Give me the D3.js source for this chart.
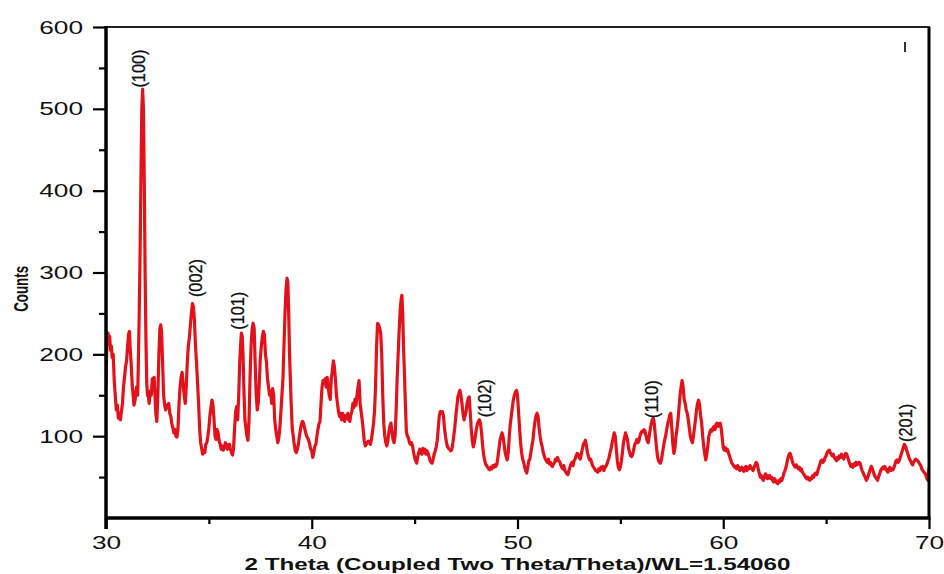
<!DOCTYPE html>
<html>
<head>
<meta charset="utf-8">
<script src="https://cdn.jsdelivr.net/npm/d3@7"></script>
<style>
  body { margin: 0; background: #ffffff; }
  svg { display: block; }
</style>
</head>
<body>
<svg id="chart" width="944" height="574"></svg>
<script>
// XRD scan: [2θ (deg), counts]
const scan = [
[30.00,160],[30.03,200],[30.06,222],[30.10,226],[30.14,212],[30.18,222],[30.22,205],[30.26,210],[30.30,196],[30.35,200],
[30.40,168],[30.45,150],[30.50,132],[30.55,138],[30.60,122],[30.65,128],[30.70,120],[30.75,130],[30.80,140],[30.85,160],
[30.90,172],[30.95,185],[31.00,192],[31.05,210],[31.10,225],[31.14,228],[31.18,205],[31.22,190],[31.28,160],[31.32,150],
[31.36,138],[31.42,145],[31.48,160],[31.54,150],[31.58,200],[31.62,260],[31.66,330],[31.70,420],[31.74,500],[31.78,524],
[31.82,500],[31.86,410],[31.90,300],[31.94,220],[31.98,165],[32.02,150],[32.06,148],[32.10,140],[32.15,155],[32.20,150],
[32.25,170],[32.30,165],[32.34,172],[32.38,150],[32.42,128],[32.47,118],[32.52,150],[32.57,200],[32.62,232],[32.66,236],
[32.70,228],[32.75,190],[32.80,150],[32.85,138],[32.90,132],[32.95,138],[33.00,135],[33.05,140],[33.10,128],[33.15,124],
[33.20,115],[33.25,110],[33.30,104],[33.35,108],[33.40,100],[33.45,99],[33.50,110],[33.55,140],[33.60,160],[33.65,172],
[33.70,178],[33.75,165],[33.80,150],[33.85,140],[33.90,160],[33.95,190],[34.00,210],[34.05,220],[34.10,235],[34.15,250],
[34.20,262],[34.25,258],[34.30,240],[34.35,210],[34.40,190],[34.45,165],[34.50,140],[34.55,110],[34.60,92],[34.65,85],
[34.70,78],[34.75,82],[34.80,80],[34.85,90],[34.90,92],[34.95,100],[35.00,110],[35.05,125],[35.10,135],[35.15,144],
[35.20,138],[35.25,120],[35.30,100],[35.35,96],[35.40,108],[35.45,104],[35.50,94],[35.55,90],[35.60,84],[35.65,88],
[35.70,83],[35.75,86],[35.80,92],[35.85,90],[35.90,84],[35.95,86],[36.00,90],[36.05,84],[36.10,80],[36.15,77],
[36.20,85],[36.25,110],[36.30,130],[36.35,136],[36.40,120],[36.45,150],[36.50,190],[36.55,215],[36.58,226],[36.62,222],
[36.66,200],[36.70,160],[36.75,120],[36.80,110],[36.85,100],[36.90,95],[36.95,120],[37.00,170],[37.05,210],[37.10,230],
[37.15,238],[37.20,232],[37.25,190],[37.30,150],[37.35,132],[37.40,140],[37.45,165],[37.50,195],[37.55,210],[37.60,222],
[37.65,228],[37.70,224],[37.75,200],[37.80,190],[37.85,170],[37.90,160],[37.95,150],[38.00,155],[38.05,140],[38.10,158],
[38.15,150],[38.20,120],[38.25,108],[38.30,100],[38.35,92],[38.40,98],[38.45,110],[38.50,130],[38.55,150],[38.60,170],
[38.65,210],[38.70,250],[38.75,280],[38.80,293],[38.84,288],[38.88,250],[38.92,200],[38.96,170],[39.00,140],[39.05,110],
[39.10,100],[39.15,90],[39.20,82],[39.25,80],[39.30,84],[39.35,90],[39.40,100],[39.45,108],[39.50,115],[39.55,118],
[39.60,116],[39.65,110],[39.70,105],[39.75,100],[39.80,98],[39.85,95],[39.90,90],[39.95,84],[40.00,82],[40.05,74],
[40.10,80],[40.15,88],[40.20,90],[40.25,100],[40.30,108],[40.35,115],[40.40,118],[40.45,140],[40.50,160],[40.55,168],
[40.60,165],[40.65,170],[40.70,160],[40.75,172],[40.80,160],[40.85,150],[40.90,145],[40.95,170],[41.00,180],[41.05,192],
[41.10,185],[41.15,170],[41.20,150],[41.25,140],[41.30,130],[41.35,124],[41.40,128],[41.45,120],[41.50,128],[41.55,124],
[41.60,118],[41.65,125],[41.70,122],[41.75,128],[41.80,120],[41.85,118],[41.90,126],[41.95,130],[42.00,140],[42.05,135],
[42.10,145],[42.15,138],[42.20,150],[42.25,160],[42.30,168],[42.35,140],[42.40,130],[42.45,120],[42.50,108],[42.55,95],
[42.60,88],[42.65,90],[42.70,92],[42.75,94],[42.80,92],[42.85,90],[42.90,96],[42.95,105],[43.00,115],[43.05,130],
[43.10,160],[43.15,210],[43.20,238],[43.25,236],[43.30,232],[43.35,226],[43.40,200],[43.45,150],[43.50,115],[43.55,100],
[43.60,92],[43.65,88],[43.70,95],[43.75,105],[43.80,112],[43.85,116],[43.90,105],[43.95,96],[44.00,92],[44.05,100],
[44.10,130],[44.15,170],[44.20,200],[44.25,230],[44.30,255],[44.35,268],[44.38,272],[44.42,250],[44.46,210],[44.50,180],
[44.55,140],[44.60,105],[44.65,100],[44.70,98],[44.75,92],[44.80,90],[44.85,92],[44.90,88],[44.95,80],[45.00,74],
[45.05,70],[45.10,67],[45.15,75],[45.20,80],[45.25,84],[45.30,82],[45.35,78],[45.40,85],[45.45,80],[45.50,84],
[45.55,78],[45.60,82],[45.65,79],[45.70,75],[45.75,70],[45.80,68],[45.85,67],[45.90,72],[45.95,78],[46.00,82],
[46.05,87],[46.10,95],[46.15,110],[46.20,125],[46.25,130],[46.30,128],[46.35,130],[46.40,125],[46.45,110],[46.50,100],
[46.55,92],[46.60,87],[46.65,85],[46.70,84],[46.75,82],[46.80,83],[46.85,90],[46.90,100],[46.95,110],[47.00,124],
[47.05,135],[47.10,148],[47.15,152],[47.20,156],[47.25,150],[47.30,140],[47.35,128],[47.40,120],[47.45,125],[47.50,130],
[47.55,140],[47.60,146],[47.65,148],[47.70,130],[47.75,110],[47.80,95],[47.85,87],[47.90,92],[47.95,100],[48.00,108],
[48.05,115],[48.10,118],[48.15,120],[48.20,116],[48.25,105],[48.30,90],[48.35,78],[48.40,71],[48.45,66],[48.50,64],
[48.55,62],[48.60,60],[48.65,59],[48.70,62],[48.75,60],[48.80,64],[48.85,62],[48.90,65],[48.95,63],[49.00,66],
[49.05,75],[49.10,85],[49.15,95],[49.20,100],[49.25,104],[49.30,99],[49.35,90],[49.40,80],[49.45,75],[49.50,71],
[49.55,80],[49.60,100],[49.65,115],[49.70,125],[49.75,135],[49.80,145],[49.85,150],[49.90,154],[49.95,156],[50.00,150],
[50.05,130],[50.10,110],[50.15,92],[50.20,80],[50.25,72],[50.30,68],[50.35,62],[50.40,58],[50.45,55],[50.50,62],
[50.55,70],[50.60,72],[50.65,80],[50.70,88],[50.75,95],[50.80,108],[50.85,118],[50.90,125],[50.95,128],[51.00,124],
[51.05,110],[51.10,100],[51.15,92],[51.20,87],[51.25,80],[51.30,76],[51.35,72],[51.40,70],[51.45,68],[51.50,72],
[51.55,66],[51.60,68],[51.65,64],[51.70,63],[51.75,66],[51.80,68],[51.85,72],[51.90,70],[51.95,74],[52.00,70],
[52.05,69],[52.10,65],[52.15,62],[52.20,60],[52.25,64],[52.30,58],[52.35,56],[52.40,54],[52.45,53],[52.50,58],
[52.55,62],[52.60,66],[52.65,68],[52.70,64],[52.75,70],[52.80,72],[52.85,76],[52.90,79],[52.95,78],[53.00,74],
[53.05,72],[53.10,78],[53.15,84],[53.20,90],[53.25,92],[53.30,95],[53.35,88],[53.40,80],[53.45,75],[53.50,71],
[53.55,72],[53.60,68],[53.65,64],[53.70,62],[53.75,60],[53.80,58],[53.85,57],[53.90,56],[53.95,60],[54.00,58],
[54.05,62],[54.10,60],[54.15,63],[54.20,58],[54.25,62],[54.30,63],[54.35,66],[54.40,70],[54.45,74],[54.50,80],
[54.55,85],[54.60,92],[54.65,98],[54.70,104],[54.75,100],[54.80,85],[54.85,70],[54.90,62],[54.95,59],[55.00,62],
[55.05,70],[55.10,80],[55.15,92],[55.20,98],[55.25,104],[55.30,100],[55.35,95],[55.40,85],[55.45,80],[55.50,76],
[55.55,75],[55.60,78],[55.65,84],[55.70,90],[55.75,92],[55.80,96],[55.85,92],[55.90,94],[55.95,100],[56.00,104],
[56.05,106],[56.10,105],[56.15,108],[56.20,106],[56.25,100],[56.30,95],[56.35,92],[56.40,100],[56.45,108],[56.50,115],
[56.55,120],[56.60,122],[56.65,115],[56.70,100],[56.75,88],[56.80,76],[56.85,70],[56.90,68],[56.95,67],[57.00,72],
[57.05,80],[57.10,88],[57.15,95],[57.20,100],[57.25,108],[57.30,115],[57.35,120],[57.40,126],[57.45,128],[57.50,110],
[57.55,90],[57.60,79],[57.65,85],[57.70,100],[57.75,108],[57.80,120],[57.85,135],[57.90,150],[57.95,160],[58.00,168],
[58.05,160],[58.10,145],[58.15,140],[58.20,132],[58.25,128],[58.30,120],[58.35,110],[58.40,100],[58.45,95],[58.50,92],
[58.55,100],[58.60,110],[58.65,120],[58.70,132],[58.75,140],[58.80,144],[58.85,138],[58.90,125],[58.95,116],[59.00,100],
[59.05,88],[59.10,78],[59.15,71],[59.20,78],[59.25,88],[59.30,100],[59.35,105],[59.40,108],[59.45,106],[59.50,110],
[59.55,112],[59.60,108],[59.65,114],[59.70,116],[59.75,112],[59.80,114],[59.85,116],[59.90,110],[59.95,98],[60.00,86],
[60.05,83],[60.10,86],[60.15,82],[60.20,84],[60.25,80],[60.30,76],[60.35,72],[60.40,68],[60.45,66],[60.50,64],
[60.55,62],[60.60,63],[60.65,60],[60.70,64],[60.75,62],[60.80,58],[60.85,60],[60.90,62],[60.95,59],[61.00,57],
[61.05,61],[61.10,63],[61.15,58],[61.20,62],[61.25,60],[61.30,64],[61.35,62],[61.40,60],[61.45,58],[61.50,62],
[61.55,65],[61.60,68],[61.65,66],[61.70,60],[61.75,55],[61.80,50],[61.85,52],[61.90,48],[61.95,46],[62.00,50],
[62.05,54],[62.10,52],[62.15,48],[62.20,50],[62.25,52],[62.30,48],[62.35,50],[62.40,46],[62.45,44],[62.50,48],
[62.55,45],[62.60,43],[62.65,42],[62.70,46],[62.75,44],[62.80,48],[62.85,46],[62.90,50],[62.95,55],[63.00,58],
[63.05,62],[63.10,68],[63.15,74],[63.20,78],[63.25,79],[63.30,75],[63.35,70],[63.40,66],[63.45,64],[63.50,62],
[63.55,65],[63.60,62],[63.65,60],[63.70,62],[63.75,58],[63.80,60],[63.85,56],[63.90,54],[63.95,52],[64.00,50],
[64.05,48],[64.10,50],[64.15,47],[64.20,46],[64.25,49],[64.30,48],[64.35,52],[64.40,50],[64.45,54],[64.50,55],
[64.55,53],[64.60,58],[64.65,62],[64.70,66],[64.75,70],[64.80,71],[64.85,68],[64.90,70],[64.95,74],[65.00,76],
[65.05,80],[65.10,82],[65.15,83],[65.20,80],[65.25,78],[65.30,76],[65.35,78],[65.40,74],[65.45,72],[65.50,70],
[65.55,74],[65.60,72],[65.65,76],[65.70,74],[65.75,78],[65.80,76],[65.85,72],[65.90,75],[65.95,79],[66.00,78],
[66.05,74],[66.10,70],[66.15,66],[66.20,63],[66.25,65],[66.30,62],[66.35,66],[66.40,64],[66.45,68],[66.50,65],
[66.55,66],[66.60,68],[66.65,67],[66.70,62],[66.75,58],[66.80,55],[66.85,52],[66.90,50],[66.95,46],[67.00,48],
[67.05,52],[67.10,56],[67.15,60],[67.20,63],[67.25,60],[67.30,56],[67.35,52],[67.40,50],[67.45,48],[67.50,46],
[67.55,50],[67.60,54],[67.65,58],[67.70,60],[67.75,62],[67.80,60],[67.85,63],[67.90,60],[67.95,58],[68.00,56],
[68.05,60],[68.10,62],[68.15,58],[68.20,60],[68.25,59],[68.30,62],[68.35,66],[68.40,70],[68.45,71],[68.50,68],
[68.55,70],[68.60,74],[68.65,78],[68.70,82],[68.75,86],[68.80,90],[68.85,88],[68.90,84],[68.95,80],[69.00,76],
[69.05,72],[69.10,70],[69.15,67],[69.20,65],[69.25,68],[69.30,70],[69.35,72],[69.40,71],[69.45,70],[69.50,68],
[69.55,66],[69.60,64],[69.65,60],[69.70,58],[69.75,56],[69.80,55],[69.85,52],[69.90,48],[69.95,46],[70.00,62]
];

// Axis ticks
const xMajorTicks = [30, 40, 50, 60, 70];
const xMinorTicks = [35, 45, 55, 65];
const yMajorTicks = [100, 200, 300, 400, 500, 600];
const yMinorTicks = [50, 150, 250, 350, 450, 550];

// Miller-index labels and where each sits (2θ, counts of its lower end)
const hklLabels  = ["(100)", "(002)", "(101)", "(102)", "(110)", "(201)"];
const hklAngles  = [31.62, 34.37, 36.42, 48.42, 56.55, 68.88];
const hklCounts  = [526, 270, 230, 123, 122, 93];

const xTitle = "2 Theta (Coupled Two Theta/Theta)/WL=1.54060";
const yTitle = "Counts";

const svg = d3.select("#chart");
const plotLeft = 106, plotRight = 929, plotTop = 27, plotBottom = 518;

const x = d3.scaleLinear().domain([30, 70]).range([plotLeft, plotRight]);
const y = d3.scaleLinear().domain([0, 600]).range([plotBottom, plotTop]);

const tickFont = "'Liberation Sans', Arial, sans-serif";
const narrowFont = "'Liberation Sans Narrow', 'Arial Narrow', 'Liberation Sans', sans-serif";

// clip for the trace
svg.append("defs").append("clipPath").attr("id", "plotClip")
  .append("rect").attr("x", plotLeft).attr("y", plotTop)
  .attr("width", plotRight - plotLeft).attr("height", plotBottom - plotTop);

// trace
const line = d3.line().x(d => x(d[0])).y(d => y(d[1]));
svg.append("path")
  .datum(scan)
  .attr("clip-path", "url(#plotClip)")
  .attr("d", line)
  .attr("fill", "none")
  .attr("stroke", "#e3121a")
  .attr("stroke-width", 3.2)
  .attr("stroke-linejoin", "round");

// y axis: major + minor ticks
const yMajor = svg.append("g").attr("transform", `translate(${plotLeft},0)`)
  .call(d3.axisLeft(y).tickValues(yMajorTicks).tickSize(13).tickPadding(10).tickFormat(d3.format("d")));
const yMinor = svg.append("g").attr("transform", `translate(${plotLeft},0)`)
  .call(d3.axisLeft(y).tickValues(yMinorTicks).tickSize(7).tickFormat(""));

// x axis: major + minor ticks
const xMajor = svg.append("g").attr("transform", `translate(0,${plotBottom})`)
  .call(d3.axisBottom(x).tickValues(xMajorTicks).tickSize(11).tickPadding(7).tickFormat(d3.format("d")));
const xMinor = svg.append("g").attr("transform", `translate(0,${plotBottom})`)
  .call(d3.axisBottom(x).tickValues(xMinorTicks).tickSize(6).tickFormat(""));

[yMajor, yMinor, xMajor, xMinor].forEach(g => {
  g.select(".domain").remove();
  g.selectAll(".tick line").attr("stroke", "#000").attr("stroke-width", 2.2);
});
[yMajor, xMajor].forEach(g => {
  g.selectAll(".tick text")
    .attr("fill", "#111")
    .style("font-family", tickFont)
    .style("font-size", "19px")
    .attr("textLength", function () { return this.textContent.length * 14.6; })
    .attr("lengthAdjust", "spacingAndGlyphs");
});

// frame
svg.append("line").attr("x1", plotLeft).attr("x2", plotRight + 1).attr("y1", plotTop).attr("y2", plotTop)
  .attr("stroke", "#222").attr("stroke-width", 2.2);
svg.append("line").attr("x1", plotRight).attr("x2", plotRight).attr("y1", plotTop).attr("y2", plotBottom)
  .attr("stroke", "#000").attr("stroke-width", 3);
svg.append("line").attr("x1", plotLeft).attr("x2", plotLeft).attr("y1", plotTop - 1).attr("y2", plotBottom + 11)
  .attr("stroke", "#000").attr("stroke-width", 3.5);
svg.append("line").attr("x1", plotLeft - 1).attr("x2", plotRight + 1.5).attr("y1", plotBottom).attr("y2", plotBottom)
  .attr("stroke", "#000").attr("stroke-width", 3.5);

// small legend mark in the top-right corner
svg.append("line").attr("x1", 905).attr("x2", 905).attr("y1", 42).attr("y2", 52)
  .attr("stroke", "#333").attr("stroke-width", 2);

// hkl labels, rotated
svg.append("g").selectAll("text")
  .data(hklLabels)
  .join("text")
  .attr("transform", (d, i) => `translate(${x(hklAngles[i])},${y(hklCounts[i])}) rotate(-90)`)
  .attr("text-anchor", "start")
  .attr("dominant-baseline", "central")
  .attr("fill", "#111")
  .attr("stroke", "#111")
  .attr("stroke-width", 0.3)
  .style("font-family", narrowFont)
  .style("font-size", "18px")
  .attr("textLength", 38)
  .attr("lengthAdjust", "spacingAndGlyphs")
  .text(d => d);

// axis titles
svg.append("text")
  .attr("x", x(50)).attr("y", 570)
  .attr("text-anchor", "middle")
  .attr("fill", "#111")
  .style("font-family", tickFont)
  .style("font-weight", "bold")
  .style("font-size", "17px")
  .attr("textLength", 546)
  .attr("lengthAdjust", "spacingAndGlyphs")
  .text(xTitle);

svg.append("text")
  .attr("transform", `translate(20,${y(280)}) rotate(-90)`)
  .attr("text-anchor", "middle")
  .attr("dominant-baseline", "central")
  .attr("fill", "#111")
  .style("font-family", narrowFont)
  .style("font-weight", "bold")
  .style("font-size", "21px")
  .attr("textLength", 46)
  .attr("lengthAdjust", "spacingAndGlyphs")
  .text(yTitle);
</script>
</body>
</html>
